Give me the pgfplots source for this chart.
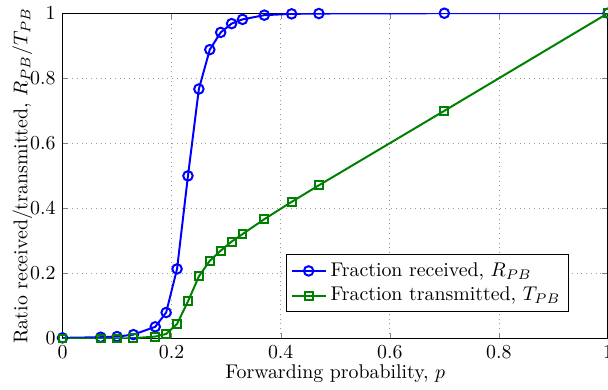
\documentclass[border=0pt]{standalone}
\usepackage{pgfplots}
\pgfplotsset{compat=1.18}
\definecolor{mgreen}{rgb}{0,0.5,0}
\begin{document}
\begin{tikzpicture}[trim axis right]
\begin{axis}[
  width=275pt, height=164pt, scale only axis,
  xmin=0, xmax=1, ymin=0, ymax=1,
  xtick={0,0.2,0.4,0.6,0.8,1}, ytick={0,0.2,0.4,0.6,0.8,1},
  xticklabels={0,0.2,0.4,0.6,0.8,1}, yticklabels={0,0.2,0.4,0.6,0.8,1},
  tick align=inside, tick pos=both,
  major tick length=3pt,
  grid=major,
  major grid style={dotted, gray!80},
  axis line style={line width=0.7pt},
  xlabel={Forwarding probability, $p$},
  ylabel={Ratio received/transmitted, $R_{PB}/T_{PB}$},
  xlabel style={yshift=4pt},
  ylabel style={yshift=-8pt},
  legend style={at={(0.41,0.08)}, anchor=south west, draw=black, line width=0.6pt, font=\normalsize, row sep=0pt, inner sep=2pt},
  legend cell align=left,
]
\addplot[blue, line width=1pt, mark=o, mark size=2.4pt, mark options={solid, line width=1pt}] coordinates {
(0,0.002) (0.07,0.004) (0.1,0.006) (0.13,0.012) (0.17,0.036) (0.19,0.08) (0.21,0.214) (0.23,0.5) (0.25,0.767) (0.27,0.888) (0.29,0.941) (0.31,0.968) (0.33,0.981) (0.37,0.994) (0.42,0.998) (0.47,0.999) (0.7,1.0) (1.0,1.0)
};
\addlegendentry{Fraction received, $R_{PB}$}
\addplot[mgreen, line width=1pt, mark=square, mark size=2pt, mark options={solid, line width=1pt}] coordinates {
(0,0) (0.07,0) (0.1,0) (0.13,0.001) (0.17,0.006) (0.19,0.014) (0.21,0.045) (0.23,0.114) (0.25,0.191) (0.27,0.239) (0.29,0.27) (0.31,0.298) (0.33,0.321) (0.37,0.367) (0.42,0.42) (0.47,0.471) (0.7,0.70) (1.0,1.0)
};
\addlegendentry{Fraction transmitted, $T_{PB}$}
\end{axis}
\path ([xshift=-3pt]current axis.outer west);
\end{tikzpicture}
\end{document}
